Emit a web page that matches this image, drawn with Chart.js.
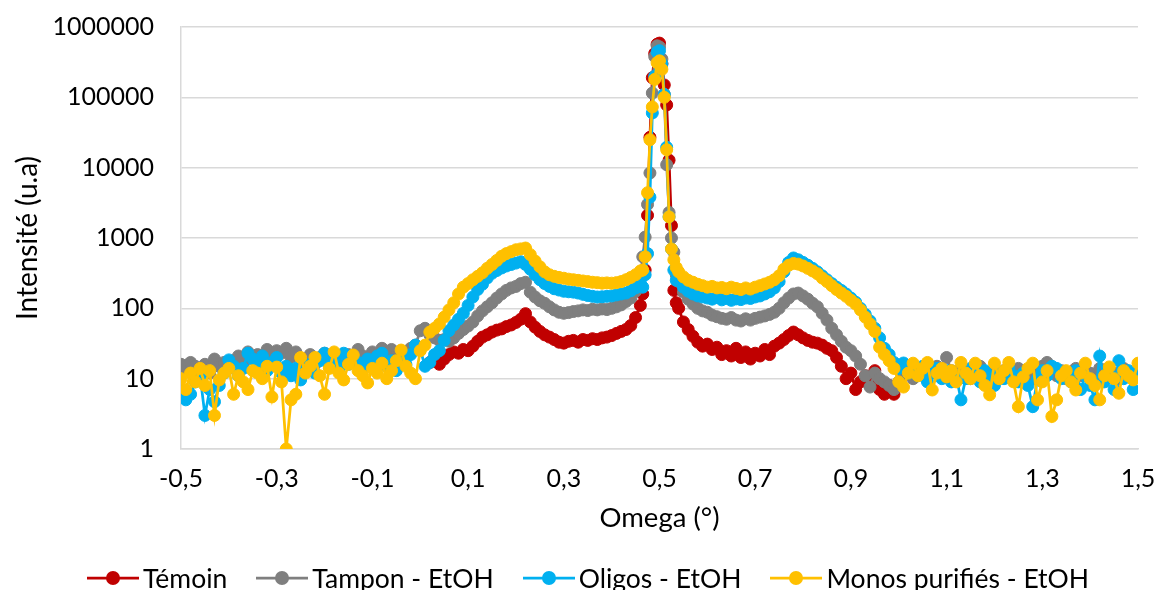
<!DOCTYPE html>
<html>
<head>
<meta charset="utf-8">
<script src="https://cdn.jsdelivr.net/npm/chart.js@4.4.0/dist/chart.umd.min.js"></script>
<style>
  html, body { margin: 0; padding: 0; background: #fff; }
  .wrap { position: relative; width: 1156px; height: 590px; }
  .legend {
    position: absolute; left: 20px; right: 0; top: 561px; height: 34px;
    display: flex; justify-content: center; align-items: center; gap: 29px;
    font-family: Lato, "Open Sans", sans-serif; font-size: 26.5px; color: #000;
  }
  .legend-item { display: flex; align-items: center; white-space: nowrap; }
  .legend-item canvas { margin-right: 4px; }
</style>
</head>
<body>
<div class="wrap">
  <canvas id="chart" width="1156" height="590"></canvas>
  <div class="legend" id="legend"></div>
</div>
<script>
// omega grid: 0.01 steps on both sides, finer 0.005 steps across the specular peak
function grid(from, to) {
  const out = [];
  for (let i = Math.round(from * 100); i <= Math.round(to * 100); i++) out.push(i / 100);
  return out;
}
const omegaLow = grid(-0.5, 0.46);
const omegaPeak = [0.465, 0.47, 0.475, 0.48, 0.485, 0.49, 0.495, 0.5, 0.505, 0.51, 0.515, 0.52, 0.525, 0.53, 0.535];
const omegaHigh = grid(0.54, 1.5);

const yTicks = [1, 10, 100, 1000, 10000, 100000, 1000000];
const xTickStep = 0.2;

// Témoin : only recorded from 0.02 to 0.99
const temoinLow = [17, 20, 16, 19, 22, 24, 23, 26,
  25, 29, 34, 39, 42, 46, 49, 51, 55, 58,
  63, 70, 84, 64, 54, 47, 42, 39, 36, 33,
  32, 34, 35, 33, 36, 35, 37, 36, 38, 39,
  41, 44, 47, 50, 57, 74, 110];
const temoinPeak = [160, 350, 2100, 27000, 190000, 420000, 570000, 590000, 300000, 150000, 78000, 12800, 1500, 180, 120];
const temoinHigh = [100, 64, 50, 40, 33, 29, 31, 26, 28, 22,
  25, 21, 27, 20, 24, 19, 23, 21, 26, 22,
  29, 32, 36, 41, 46, 42, 38, 35, 33, 32,
  30, 27, 25, 20, 15, 10, 12, 7, 9, 11,
  8, 13, 7, 6, 8, 6];

const tamponLow = [16, 14, 17, 15, 13, 16, 12, 19, 15, 17,
  14, 18, 21, 16, 24, 19, 22, 18, 26, 21,
  25, 23, 27, 20, 24, 15, 19, 22, 16, 20,
  23, 18, 21, 17, 20, 22, 19, 26, 21, 18,
  24, 20, 27, 22, 26, 21, 24, 23, 27, 30,
  48, 52, 42, 38, 35, 36, 34, 38, 44, 50,
  56, 64, 78, 92, 105, 120, 140, 160, 180, 195,
  205, 225, 235, 170, 145, 128, 118, 105, 95, 88,
  85, 87, 90, 92, 95, 93, 97, 95, 98, 96,
  100, 105, 112, 125, 140, 175, 280];
const tamponPeak = [540, 1030, 3000, 8400, 115000, 380000, 540000, 520000, 350000, 110000, 11000, 2300, 1000, 630, 300];
const tamponHigh = [240, 170, 135, 115, 100, 92, 88, 80, 76, 72,
  70, 74, 68, 66, 71, 68, 72, 75, 78, 82,
  88, 100, 120, 140, 160, 165, 150, 135, 118, 105,
  85, 68, 52, 42, 34, 28, 25, 21, 16, 11,
  7.6, 12, 10, 9, 8, 7, 9, 11, 13, 10,
  12, 14, 11, 13, 15, 12, 20, 13, 11, 14,
  12, 10, 13, 15, 11, 12, 14, 10, 13, 12,
  11, 14, 9, 12, 10, 13, 15, 17, 12, 11,
  13, 10, 12, 14, 11, 13, 12, 10, 14, 11,
  13, 12, 10, 14, 12, 11, 13];

const oligosLow = [7, 5, 6, 9, 11, 3, 7, 4.7, 8, 12,
  18.5, 15, 11, 14, 23, 19, 16, 21, 13, 17,
  20, 12, 15, 11, 14, 9.6, 13, 16, 12, 18,
  23, 15, 19, 14, 23, 16, 20, 17, 14, 19,
  16, 21, 23, 15, 18, 13, 18, 16, 22, 30,
  26, 15, 17, 22, 25, 35, 48, 58, 70, 85,
  110, 145, 185, 220, 270, 315, 345, 375, 400, 420,
  440, 460, 420, 360, 300, 255, 225, 205, 190, 182,
  175, 172, 170, 165, 158, 152, 148, 145, 146, 148,
  150, 155, 160, 165, 178, 195, 230];
const oligosPeak = [200, 300, 600, 3800, 60000, 200000, 440000, 460000, 300000, 110000, 19500, 2000, 700, 350, 250];
const oligosHigh = [250, 200, 175, 160, 150, 145, 140, 135, 142, 132,
  138, 130, 136, 133, 140, 138, 145, 150, 160, 172,
  195, 240, 330, 450, 520, 490, 450, 410, 370, 330,
  290, 255, 225, 200, 180, 160, 140, 122, 100, 82,
  66, 52, 38, 27, 22, 17, 14, 16.7, 12, 14,
  11, 15, 9, 12, 14, 10, 13, 9, 11, 5,
  10, 14, 12, 9, 13, 11, 8, 12, 10, 14,
  11, 9, 12, 8, 4, 10, 13, 11, 15, 14,
  10, 12, 9, 13, 7, 11, 8, 5, 21, 9,
  12, 7, 18, 10, 13, 7, 13];

const monosLow = [10, 7, 12, 9, 14, 8, 13, 3, 9.6, 12,
  14, 6, 11, 9, 7, 13, 12, 10, 15, 5.5,
  14.6, 9, 1, 5, 6, 20, 12, 15, 20, 11,
  6, 14, 24, 12, 9.6, 16, 21.7, 13, 11, 8.7,
  14, 12, 16.6, 10, 13, 18, 25.5, 15, 12, 10,
  25, 30, 46, 52, 60, 75, 95, 120, 160, 200,
  225, 255, 285, 320, 370, 420, 480, 550, 600, 640,
  680, 700, 720, 580, 470, 390, 330, 300, 285, 275,
  268, 260, 255, 250, 245, 240, 235, 232, 228, 230,
  228, 232, 240, 255, 275, 300, 340];
const monosPeak = [350, 540, 4400, 25000, 73000, 180000, 310000, 330000, 250000, 100000, 18000, 2000, 700, 490, 380];
const monosHigh = [330, 280, 250, 235, 220, 210, 200, 205, 195, 198,
  190, 200, 192, 185, 195, 188, 200, 210, 222, 235,
  255, 290, 360, 410, 435, 425, 400, 370, 340, 310,
  270, 240, 210, 185, 165, 148, 130, 115, 95, 75,
  60, 47, 28, 22, 18, 14, 9, 7.6, 12, 16.6,
  11, 14, 17, 6.9, 12, 14, 10.6, 13, 9, 17,
  12, 10, 16.6, 11, 8, 5.9, 16.6, 10, 13, 17,
  9, 4, 10.6, 14, 16.6, 5, 9, 13, 2.9, 5,
  11, 13, 9, 6.9, 12, 16.6, 10, 8, 5, 11,
  14.7, 10, 6.2, 13, 11, 9.6, 16.6];

const FONT = 'Lato, "Open Sans", sans-serif';

function pts(xs, ys) {
  return ys.map((y, i) => ({ x: xs[i], y }));
}

function series(low, peak, high) {
  // low arrays that are shorter than the grid start later, high ones stop earlier
  return [
    ...pts(omegaLow.slice(omegaLow.length - low.length), low),
    ...pts(omegaPeak, peak),
    ...pts(omegaHigh, high),
  ];
}

function legendSymbol(color) {
  const c = document.createElement('canvas');
  c.width = 52; c.height = 16;
  const g = c.getContext('2d');
  g.strokeStyle = color;
  g.lineWidth = 2.75;
  g.beginPath(); g.moveTo(0, 8); g.lineTo(52, 8); g.stroke();
  g.fillStyle = color;
  g.beginPath(); g.arc(26, 8, 7, 0, Math.PI * 2); g.fill();
  return c;
}

const defs = [
  { label: 'Témoin', color: '#C00000', data: series(temoinLow, temoinPeak, temoinHigh), order: 4 },
  { label: 'Tampon - EtOH', color: '#7F7F7F', data: series(tamponLow, tamponPeak, tamponHigh), order: 3 },
  { label: 'Oligos - EtOH', color: '#00B0F0', data: series(oligosLow, oligosPeak, oligosHigh), order: 2 },
  { label: 'Monos purifiés - EtOH', color: '#FFC000', data: series(monosLow, monosPeak, monosHigh), order: 1 },
];

// legend below the chart, same look as the Excel one (line + marker)
const legendEl = document.getElementById('legend');
defs.forEach(d => {
  const item = document.createElement('div');
  item.className = 'legend-item';
  item.appendChild(legendSymbol(d.color));
  const span = document.createElement('span');
  span.textContent = d.label;
  item.appendChild(span);
  legendEl.appendChild(item);
});

new Chart(document.getElementById('chart'), {
  type: 'scatter',
  data: {
    datasets: defs.map(d => ({
      label: d.label,
      data: d.data,
      order: d.order,
      showLine: true,
      borderColor: d.color,
      backgroundColor: d.color,
      borderWidth: 2.75,
      pointRadius: 6,
      pointBorderWidth: 1,
      pointHoverRadius: 6,
      tension: 0,
    })),
  },
  options: {
    responsive: false,
    animation: false,
    devicePixelRatio: 1,
    layout: { padding: { top: 27, right: 18, left: 0, bottom: 55 } },
    plugins: {
      tooltip: { enabled: false },
      legend: { display: false },
    },
    scales: {
      x: {
        type: 'linear',
        min: -0.5,
        max: 1.5,
        grid: { display: false, drawTicks: false },
        border: { display: true, color: '#D9D9D9', width: 1.5 },
        ticks: {
          stepSize: xTickStep,
          padding: 15,
          color: '#000',
          font: { family: FONT, size: 25 },
          maxRotation: 0,
          callback: v => v.toFixed(1).replace('.', ','),
        },
        title: {
          display: true,
          text: 'Omega (°)',
          color: '#000',
          font: { family: FONT, size: 27.5 },
          padding: { top: 6, bottom: 0 },
        },
        afterFit: s => { s.height = 86; s.paddingLeft = 0; s.paddingRight = 0; },
      },
      y: {
        type: 'logarithmic',
        min: 1,
        max: 1000000,
        grid: { color: '#D9D9D9', lineWidth: 1.5, drawTicks: false },
        border: { display: true, color: '#D9D9D9', width: 1.5 },
        afterBuildTicks: s => { s.ticks = yTicks.map(v => ({ value: v })); },
        ticks: {
          padding: 27,
          color: '#000',
          font: { family: FONT, size: 25 },
          callback: v => String(v),
        },
        title: {
          display: true,
          text: 'Intensité (u.a)',
          color: '#000',
          font: { family: FONT, size: 28 },
          padding: { top: 11, bottom: 0 },
        },
        afterFit: s => { s.width = 181; s.paddingTop = 0; s.paddingBottom = 0; },
      },
    },
  },
});
</script>
</body>
</html>
